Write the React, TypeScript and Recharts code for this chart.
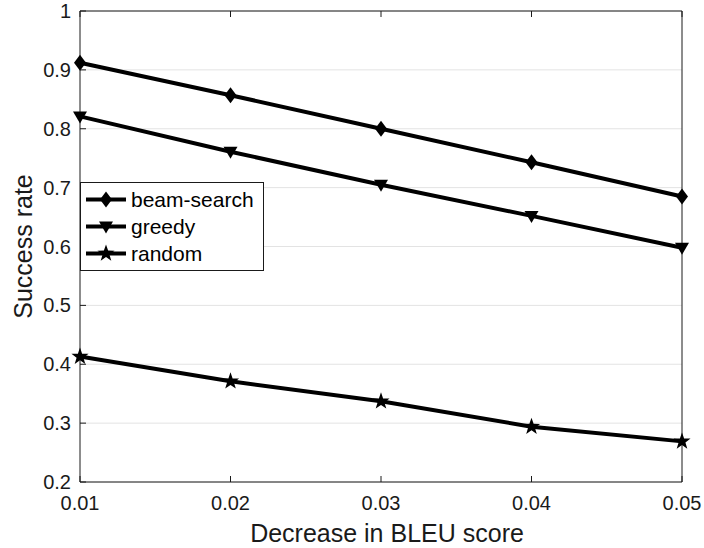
import { LineChart, Line, XAxis, YAxis, CartesianGrid, Legend } from "recharts";

const decreaseBleu = [0.01, 0.02, 0.03, 0.04, 0.05];
const beamSearch = [0.912, 0.857, 0.8, 0.743, 0.685];
const greedy = [0.821, 0.761, 0.705, 0.652, 0.598];
const randomRate = [0.413, 0.371, 0.337, 0.294, 0.269];

const xTicks = [0.01, 0.02, 0.03, 0.04, 0.05];
const yTicks = [0.2, 0.3, 0.4, 0.5, 0.6, 0.7, 0.8, 0.9, 1];

const FONT = "'Liberation Sans', Arial, Helvetica, sans-serif";
const INK = "#1a1a1a";
const TICK_LEN = 6;

type Shape = "diamond" | "triangle" | "star";

const series: { key: string; name: string; values: number[]; shape: Shape }[] = [
  { key: "beam", name: "beam-search", values: beamSearch, shape: "diamond" },
  { key: "greedy", name: "greedy", values: greedy, shape: "triangle" },
  { key: "random", name: "random", values: randomRate, shape: "star" },
];

const data = decreaseBleu.map((x, i) => ({
  x,
  beam: beamSearch[i],
  greedy: greedy[i],
  random: randomRate[i],
}));

function starPoints(cx: number, cy: number, outer: number, inner: number) {
  const pts: string[] = [];
  for (let i = 0; i < 10; i++) {
    const r = i % 2 === 0 ? outer : inner;
    const a = -Math.PI / 2 + (i * Math.PI) / 5;
    pts.push(`${cx + r * Math.cos(a)},${cy + r * Math.sin(a)}`);
  }
  return pts.join(" ");
}

function Marker({ shape, cx, cy }: { shape: Shape; cx: number; cy: number }) {
  if (shape === "diamond") {
    return <polygon points={`${cx},${cy - 8} ${cx + 6},${cy} ${cx},${cy + 8} ${cx - 6},${cy}`} fill="#000" />;
  }
  if (shape === "triangle") {
    return <polygon points={`${cx - 7},${cy - 5} ${cx + 7},${cy - 5} ${cx},${cy + 7}`} fill="#000" />;
  }
  return <polygon points={starPoints(cx, cy, 9, 3.6)} fill="#000" />;
}

const fmt = (v: number) => String(Math.round(v * 100) / 100);

// inward ticks on all four sides of the box
const LeftTick = ({ x, y, payload }: any) => (
  <g>
    <line x1={x + 9} x2={x + 9 + TICK_LEN} y1={y} y2={y} stroke={INK} />
    <text x={x} y={y} textAnchor="end" dominantBaseline="central" fontSize={20} fontFamily={FONT} fill={INK}>
      {fmt(payload.value)}
    </text>
  </g>
);

const RightTick = ({ x, y }: any) => <line x1={x - TICK_LEN} x2={x} y1={y} y2={y} stroke={INK} />;

const BottomTick = ({ x, y, payload }: any) => (
  <g>
    <line x1={x} x2={x} y1={y - TICK_LEN} y2={y} stroke={INK} />
    <text x={x} y={y + 28} textAnchor="middle" fontSize={20} fontFamily={FONT} fill={INK}>
      {fmt(payload.value)}
    </text>
  </g>
);

const TopTick = ({ x, y }: any) => <line x1={x} x2={x} y1={y} y2={y + TICK_LEN} stroke={INK} />;

const LegendBox = () => (
  <div
    style={{
      border: `1px solid ${INK}`,
      background: "#fff",
      width: 182,
      height: 81,
      padding: "3px 0",
      fontFamily: FONT,
      fontSize: 21,
      color: "#000",
    }}
  >
    {series.map((s) => (
      <div key={s.key} style={{ height: 27, display: "flex", alignItems: "center" }}>
        <svg width={50} height={27} style={{ display: "block" }}>
          <line x1={5} x2={45} y1={13.5} y2={13.5} stroke="#000" strokeWidth={4} />
          <Marker shape={s.shape} cx={25} cy={13.5} />
        </svg>
        <span style={{ lineHeight: "27px" }}>{s.name}</span>
      </div>
    ))}
  </div>
);

export default function App() {
  return (
    <div style={{ position: "absolute", left: 0, top: 0, width: 704, height: 548, background: "#fff" }}>
      <LineChart width={704} height={548} data={data} margin={{ top: 0, right: 0, bottom: 0, left: 0 }}>
        <CartesianGrid vertical={false} stroke="#e3e3e3" />
        <XAxis
          dataKey="x"
          type="number"
          domain={[0.01, 0.05]}
          ticks={xTicks}
          height={66}
          tickSize={0}
          tickMargin={0}
          axisLine={{ stroke: INK }}
          tickLine={false}
          tick={BottomTick}
          label={{
            content: ({ viewBox }: any) => (
              <text
                x={viewBox.x + viewBox.width / 2 + 6}
                y={542}
                textAnchor="middle"
                fontSize={25}
                fontFamily={FONT}
                fill={INK}
              >
                Decrease in BLEU score
              </text>
            ),
          }}
        />
        <XAxis
          xAxisId="top"
          orientation="top"
          dataKey="x"
          type="number"
          domain={[0.01, 0.05]}
          ticks={xTicks}
          height={11}
          tickSize={0}
          tickMargin={0}
          axisLine={{ stroke: INK }}
          tickLine={false}
          tick={TopTick}
        />
        <YAxis
          type="number"
          domain={[0.2, 1]}
          ticks={yTicks}
          width={80}
          tickSize={0}
          tickMargin={9}
          axisLine={{ stroke: INK }}
          tickLine={false}
          tick={LeftTick}
          label={{
            content: ({ viewBox }: any) => {
              const cy = viewBox.y + viewBox.height / 2;
              return (
                <text
                  x={32}
                  y={cy}
                  transform={`rotate(-90 32 ${cy})`}
                  textAnchor="middle"
                  fontSize={25}
                  fontFamily={FONT}
                  fill={INK}
                >
                  Success rate
                </text>
              );
            },
          }}
        />
        <YAxis
          yAxisId="right"
          orientation="right"
          type="number"
          domain={[0.2, 1]}
          ticks={yTicks}
          width={22}
          tickSize={0}
          tickMargin={0}
          axisLine={{ stroke: INK }}
          tickLine={false}
          tick={RightTick}
        />
        {series.map((s) => (
          <Line
            key={s.key}
            dataKey={s.key}
            name={s.name}
            stroke="#000"
            strokeWidth={4}
            isAnimationActive={false}
            dot={(p: any) => <Marker key={`${s.key}-${p.index}`} shape={s.shape} cx={p.cx} cy={p.cy} />}
            activeDot={false}
          />
        ))}
        <Legend
          layout="vertical"
          align="center"
          verticalAlign="middle"
          content={LegendBox}
          wrapperStyle={{ position: "absolute", left: 80, top: 182, width: 184, height: 87 }}
        />
      </LineChart>
    </div>
  );
}
